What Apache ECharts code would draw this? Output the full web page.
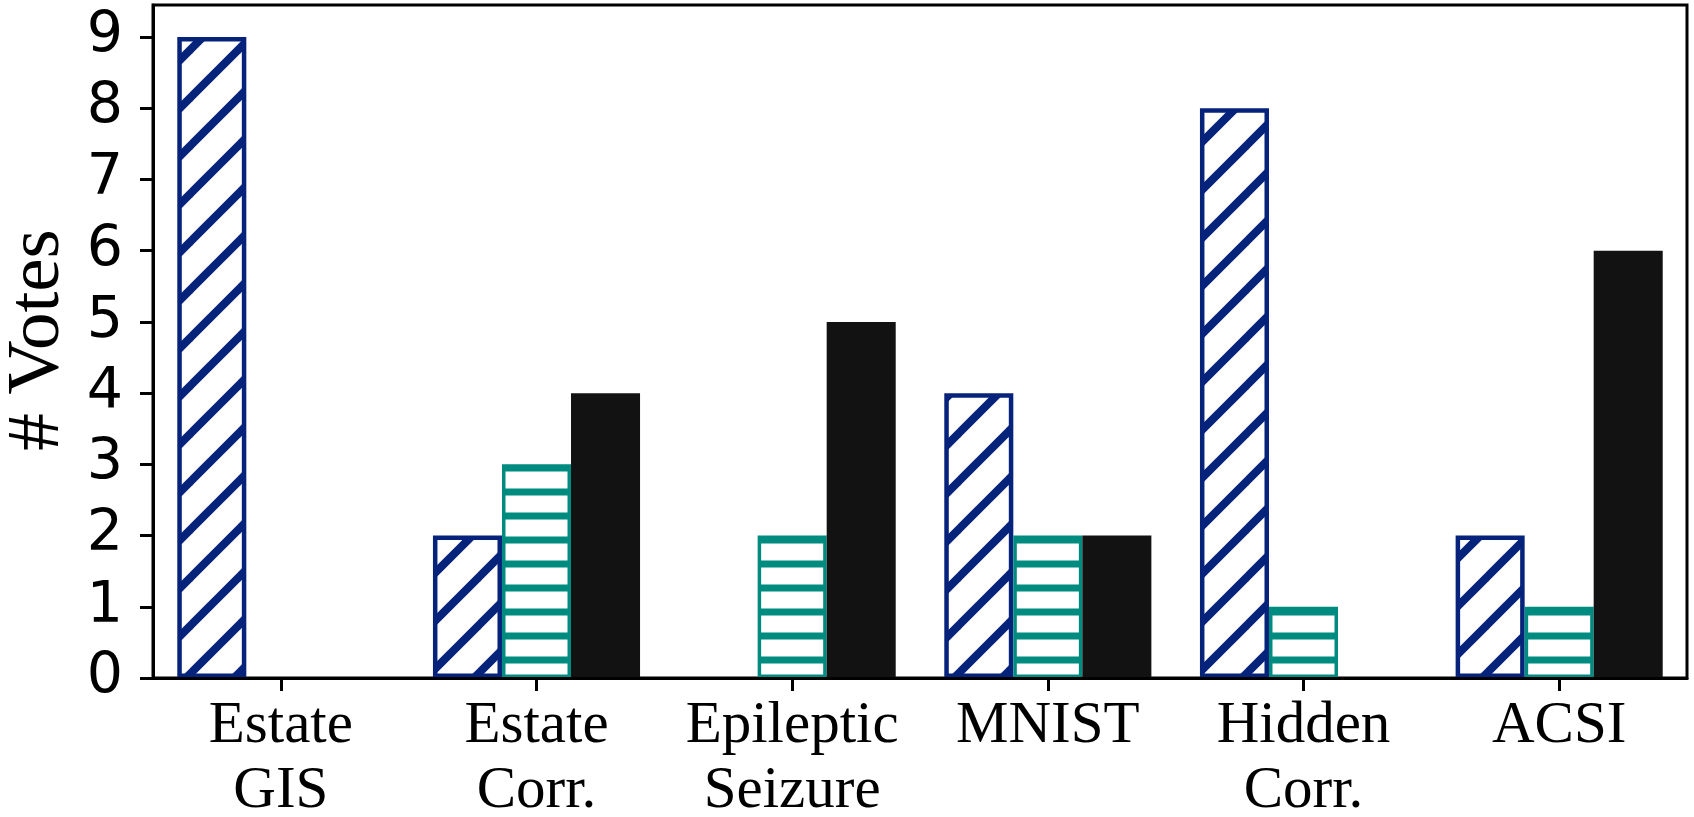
<!DOCTYPE html>
<html>
<head>
<meta charset="utf-8">
<script src="https://cdn.jsdelivr.net/npm/echarts@6/dist/echarts.min.js"></script>
<style>
html,body{margin:0;padding:0;background:#fff;}
#chart{width:1694px;height:817px;}
</style>
</head>
<body>
<div id="chart"></div>
<script>
const categories = ['Estate\nGIS', 'Estate\nCorr.', 'Epileptic\nSeizure', 'MNIST', 'Hidden\nCorr.', 'ACSI'];
const seriesA = [9, 2, 0, 4, 8, 2];   // blue diagonal hatch
const seriesB = [0, 3, 2, 2, 1, 1];   // teal horizontal hatch
const seriesC = [0, 4, 5, 2, 0, 6];   // black solid
const yTicks = [0, 1, 2, 3, 4, 5, 6, 7, 8, 9];

const BLUE = '#06237b';
const TEAL = '#008b80';
const BLACK = '#121212';

function diagPattern(color, P, lw) {
  const c = document.createElement('canvas');
  c.width = P; c.height = P;
  const g = c.getContext('2d');
  g.fillStyle = '#fff'; g.fillRect(0, 0, P, P);
  g.strokeStyle = color; g.lineWidth = lw; g.lineCap = 'butt';
  for (let k = 0; k <= 2; k++) {
    g.beginPath();
    g.moveTo(-P, k * P + P);
    g.lineTo(2 * P, k * P - 2 * P);
    g.stroke();
  }
  return c;
}
function horizPattern(color, P, lw) {
  const c = document.createElement('canvas');
  c.width = 8; c.height = P;
  const g = c.getContext('2d');
  g.fillStyle = '#fff'; g.fillRect(0, 0, 8, P);
  g.fillStyle = color;
  g.fillRect(0, (P - lw) / 2, 8, lw);
  return c;
}

const patA = { image: diagPattern(BLUE, 48, 8), repeat: 'repeat' };
const patB = { image: horizPattern(TEAL, 24, 7), repeat: 'repeat' };

function toData(arr) {
  return arr.map(v => v === 0 ? { value: 0, itemStyle: { borderWidth: 1 } } : v);
}

const chart = echarts.init(document.getElementById('chart'), null, { renderer: 'canvas' });
chart.setOption({
  animation: false,
  backgroundColor: '#fff',
  grid: { left: 153, right: 7, top: 5, bottom: 139, containLabel: false, outerBoundsMode: 'none',
          show: true, borderColor: '#000', borderWidth: 3, backgroundColor: 'transparent' },
  xAxis: {
    type: 'category',
    data: categories,
    z: 10,
    axisLine: { show: true, lineStyle: { color: '#000', width: 3 } },
    axisTick: { show: true, alignWithLabel: true, length: 13, interval: 0, lineStyle: { color: '#000', width: 3 } },
    axisLabel: { interval: 0, margin: 16, color: '#000', fontFamily: 'Liberation Serif', fontSize: 59, lineHeight: 65 },
    splitLine: { show: false }
  },
  yAxis: {
    type: 'value',
    min: 0, max: 9.45, interval: 1,
    z: 10,
    axisLine: { show: true, lineStyle: { color: '#000', width: 3 } },
    axisTick: { show: true, length: 13, lineStyle: { color: '#000', width: 3 } },
    axisLabel: {
      margin: 30, color: '#000', fontFamily: 'DejaVu Sans', fontSize: 57,
      showMaxLabel: false,
      formatter: v => yTicks.indexOf(v) >= 0 ? String(v) : ''
    },
    splitLine: { show: false }
  },
  graphic: [{
    type: 'text',
    x: 38, y: 340,
    rotation: Math.PI / 2,
    style: { text: '# Votes', fontFamily: 'Liberation Serif', fontSize: 75, fill: '#000', align: 'center', verticalAlign: 'middle' }
  }],
  series: [
    { name: 'A', type: 'bar', data: toData(seriesA), barWidth: '27%', barGap: '0%',
      itemStyle: { color: patA, borderColor: BLUE, borderWidth: 4.5 } },
    { name: 'B', type: 'bar', data: toData(seriesB), barWidth: '27%', barGap: '0%',
      itemStyle: { color: patB, borderColor: TEAL, borderWidth: 3.5 } },
    { name: 'C', type: 'bar', data: toData(seriesC), barWidth: '27%', barGap: '0%',
      itemStyle: { color: BLACK, borderColor: BLACK, borderWidth: 0 } }
  ]
});
</script>
</body>
</html>
